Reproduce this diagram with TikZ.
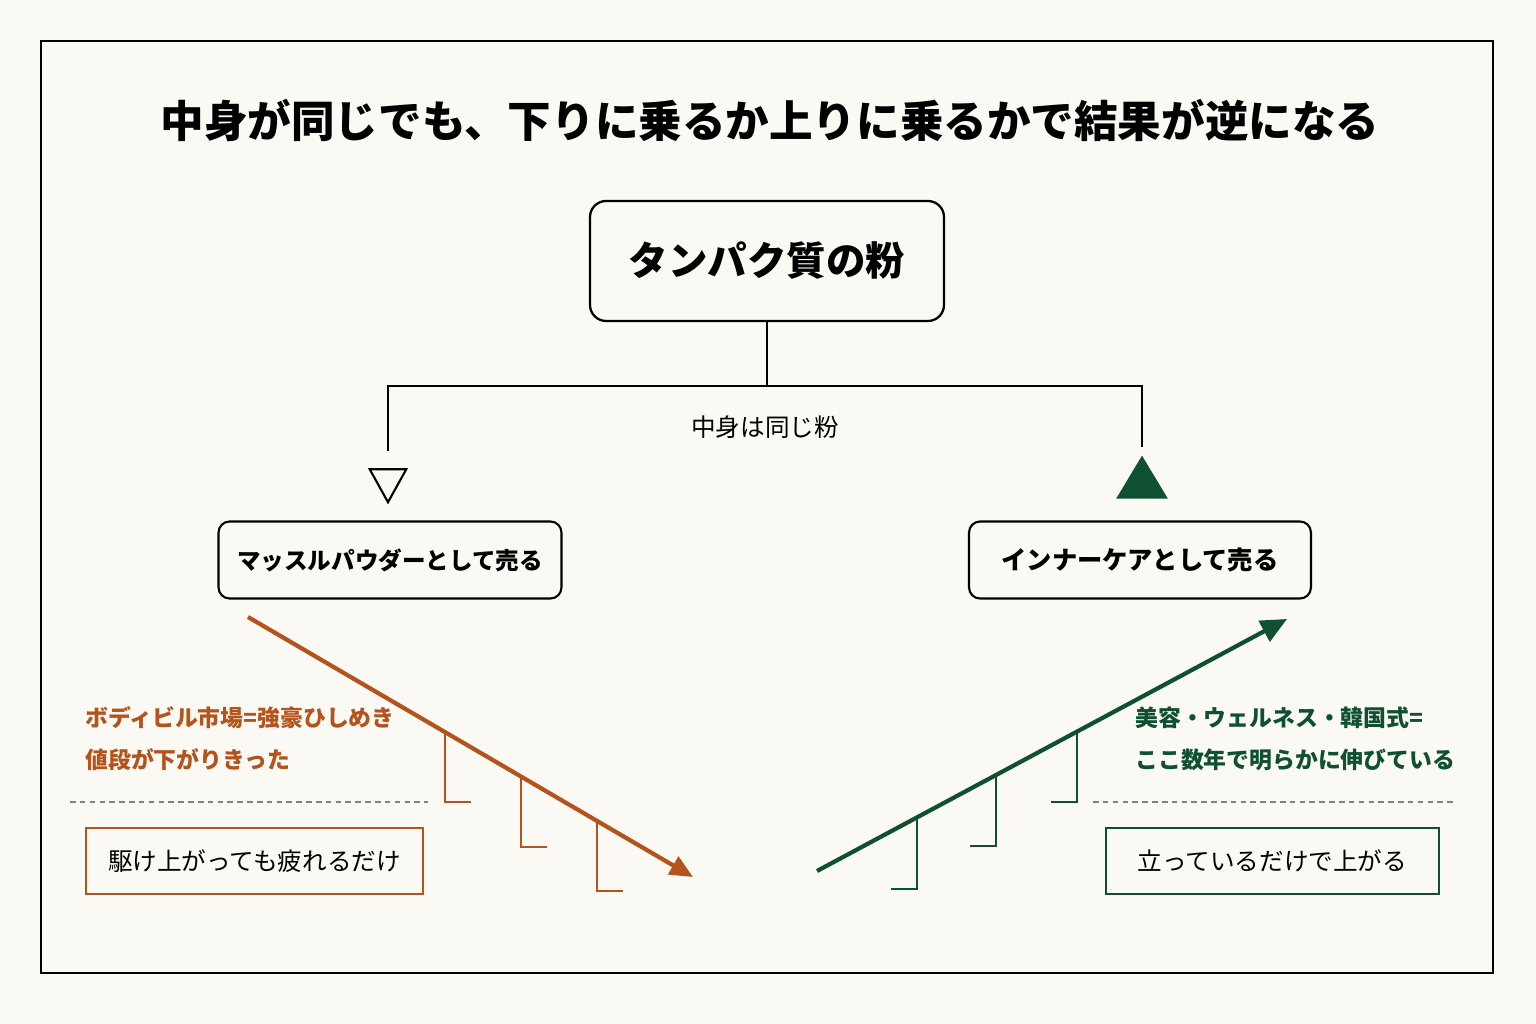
\documentclass[tikz,border=0pt]{standalone}
\usepackage{fontspec}
\setmainfont{Noto Sans CJK JP}
\usepackage{tikz}
\usetikzlibrary{arrows.meta,shapes.geometric}
\usepackage[dvipsnames,svgnames,x11names]{xcolor}
\definecolor{paper}{HTML}{FBF9F4}
\definecolor{rust}{HTML}{B4531B}
\definecolor{pine}{HTML}{0F5030}

\begin{document}
\begin{tikzpicture}[
    x=0.02cm, y=-0.02cm,
    >=Stealth,
    box/.style={draw, line width=1.2pt, rounded corners=0.22cm,
        inner sep=0pt, align=center},
    result/.style={draw, line width=1.1pt, inner sep=0pt, align=center,
        minimum height=1.32cm, font=\fontsize{14}{16}\selectfont},
    note/.style={anchor=west, align=left, inner sep=0pt,
        font=\fontsize{13}{24}\selectfont\bfseries},
    stair/.style={line width=1.1pt},
    cut/.style={gray, line width=0.6pt, dash pattern=on 3.2pt off 2.4pt}
]

    % Fons i marc
    \useasboundingbox[fill=paper] (0,0) rectangle (1536,1024);
    \draw[line width=1.4pt] (41,41) rectangle (1493,973);

    % Titol
    \node[font=\fontsize{24.8}{28}\selectfont\bfseries]
        (title) at (770,120) {中身が同じでも、下りに乗るか上りに乗るかで結果が逆になる};

    % Producte
    \node[
        box,
        line width=1.3pt,
        rounded corners=0.32cm,
        minimum width=7.08cm,
        minimum height=2.4cm,
        font=\fontsize{22.5}{26}\selectfont\bfseries
    ] (powder) at (767,261) {タンパク質の粉};

    \node[font=\fontsize{14}{16}\selectfont] (same) at (765,427) {中身は同じ粉};

    % Triangles
    \node[
        draw,
        line width=1.2pt,
        isosceles triangle,
        isosceles triangle apex angle=58,
        shape border rotate=-90,
        minimum height=0.66cm,
        inner sep=0pt
    ] (down) at (388,480) {};
    \node[
        fill=pine,
        isosceles triangle,
        isosceles triangle apex angle=62,
        shape border rotate=90,
        minimum height=0.86cm,
        inner sep=0pt
    ] (up) at (1142,484) {};

    % Branques
    \coordinate (split) at (767,386);
    \draw[line width=1.2pt] (powder.south) -- (split);
    \draw[line width=1.2pt, shorten >=0.34cm] (split) -| (down.north);
    \draw[line width=1.2pt, shorten >=0.16cm] (split) -| (up.north);

    % Venda
    \node[
        box,
        minimum width=6.86cm,
        minimum height=1.54cm,
        font=\fontsize{13.4}{16}\selectfont\bfseries
    ] (muscle) at (390,560) {マッスルパウダーとして売る};
    \node[
        box,
        minimum width=6.84cm,
        minimum height=1.54cm,
        font=\fontsize{14.4}{16}\selectfont\bfseries
    ] (inner) at (1140,560) {インナーケアとして売る};

    % Escala avall
    \coordinate (dstart) at (248,617);
    \coordinate (dend) at (693,877);
    \draw[
        ->,
        line width=2.4pt,
        rust,
        -{Triangle[length=0.46cm,width=0.4cm]}
    ] (dstart) -- (dend);
    \foreach \x/\y/\b in {445/732/802, 521/776/847, 597/821/891}
        \draw[stair, rust] (\x,\y) -- (\x,\b) -- ++(26,0);

    % Escala amunt
    \coordinate (ustart) at (817,871);
    \coordinate (uend) at (1287,619);
    \draw[
        ->,
        line width=2.4pt,
        pine,
        -{Triangle[length=0.52cm,width=0.46cm]}
    ] (ustart) -- (uend);
    \foreach \x/\y/\b in {917/817/889, 996/775/846, 1077/732/802}
        \draw[stair, pine] (\x,\y) -- (\x,\b) -- ++(-26,0);

    % Notes
    \node[note, rust] (market) at (85,739)
        {ボディビル市場=強豪ひしめき\\値段が下がりきった};
    \node[note, pine] (trend) at (1135,739)
        {美容・ウェルネス・韓国式=\\ここ数年で明らかに伸びている};

    \draw[cut] (70,802) -- (428,802);
    \draw[cut] (1093,802) -- (1456,802);

    % Resultat
    \node[result, rust, text=black, minimum width=6.74cm]
        (tired) at (254.5,861) {駆け上がっても疲れるだけ};
    \node[result, pine, text=black, minimum width=6.66cm]
        (rise) at (1272.5,861) {立っているだけで上がる};

\end{tikzpicture}
\end{document}
